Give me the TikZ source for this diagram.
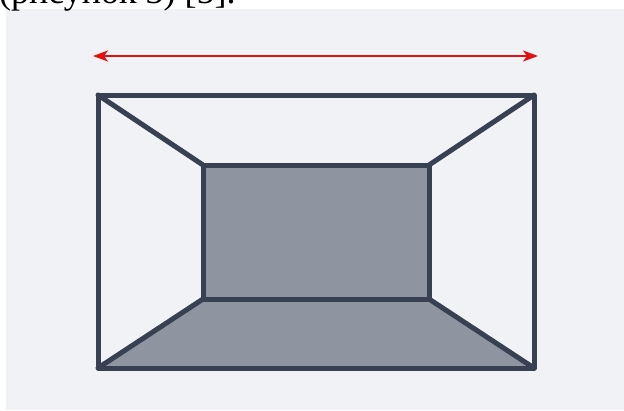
\documentclass[tikz,border=0pt]{standalone}
\usepackage{fontspec}
\setmainfont{Liberation Serif}
\usetikzlibrary{arrows.meta}
\definecolor{bg}{HTML}{F1F2F6}
\definecolor{edge}{HTML}{374151}
\definecolor{wall}{HTML}{8F95A0}
\definecolor{arrowred}{HTML}{E31010}
\begin{document}
\begin{tikzpicture}[x=1pt,y=-1pt,
  roomedge/.style={draw=edge,line width=5pt,line join=round,line cap=round},
  surface/.style={fill=wall},
  span/.style={draw=arrowred,line width=2pt,
    {Stealth[length=15pt,width=11pt,inset=4pt]}-{Stealth[length=15pt,width=11pt,inset=4pt]}}]
  \useasboundingbox (0,0) rectangle (624,410);
  \clip (0,0) rectangle (624,410);
  % panel background
  \fill[bg] (6,9) rectangle (624,410);
  % caption line running in from above
  \node[anchor=base west,inner sep=0pt,font=\fontsize{36}{40}\selectfont] (caption) at (-1,3.5) {(рисунок 3) [5].};
  % outer frame corners
  \coordinate (otl) at (98,95);
  \coordinate (otr) at (534,95);
  \coordinate (obr) at (534,368);
  \coordinate (obl) at (98,368);
  % back wall corners
  \coordinate (itl) at (203,165);
  \coordinate (itr) at (429,165);
  \coordinate (ibr) at (429,299);
  \coordinate (ibl) at (203,299);
  % width arrow ends
  \coordinate (la) at (93,56);
  \coordinate (ra) at (538,56);
  % shaded surfaces
  \fill[surface] (itl) -- (itr) -- (ibr) -- (ibl) -- cycle;
  \fill[surface] (ibl) -- (ibr) -- (obr) -- (obl) -- cycle;
  % edges
  \draw[roomedge] (otl) -- (otr) -- (obr) -- (obl) -- cycle;
  \draw[roomedge] (itl) -- (itr) -- (ibr) -- (ibl) -- cycle;
  \draw[roomedge] (otl) -- (itl);
  \draw[roomedge] (otr) -- (itr);
  \draw[roomedge] (obr) -- (ibr);
  \draw[roomedge] (obl) -- (ibl);
  % width arrow
  \draw[span] (la) -- (ra);
\end{tikzpicture}
\end{document}
